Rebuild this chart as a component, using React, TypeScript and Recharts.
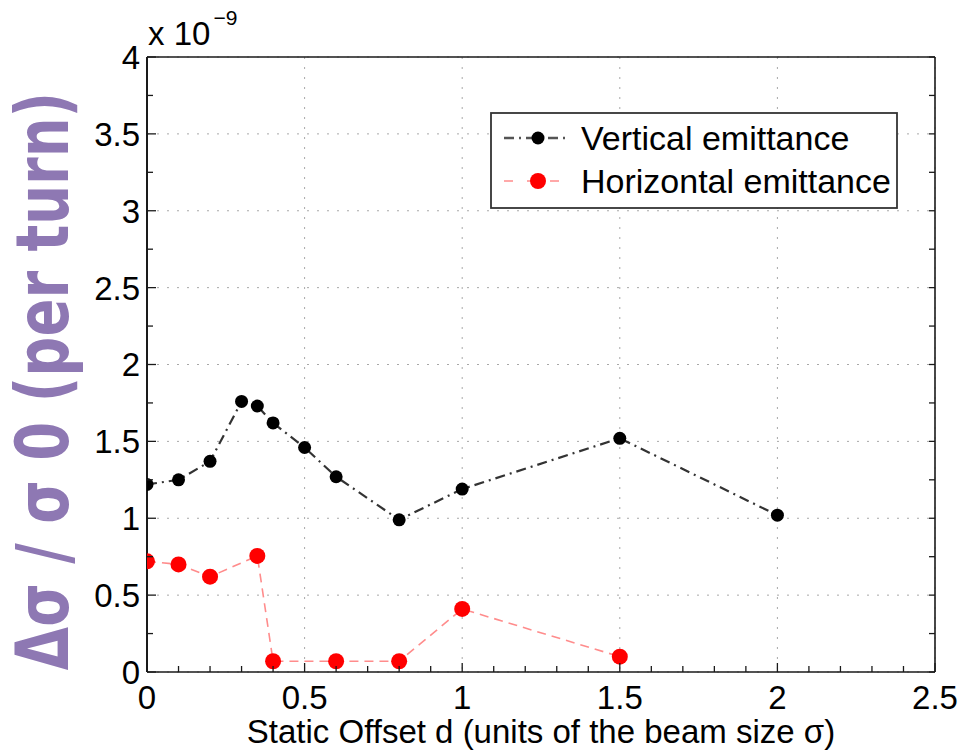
import { CartesianGrid, Legend, Line, LineChart, XAxis, YAxis } from "recharts";

// values in units of 1e-9 (see the "x 10^-9" multiplier)
const verticalOffsets = [0, 0.1, 0.2, 0.3, 0.35, 0.4, 0.5, 0.6, 0.8, 1, 1.5, 2];
const verticalEmittance = [1.22, 1.25, 1.37, 1.76, 1.73, 1.62, 1.46, 1.27, 0.99, 1.19, 1.52, 1.02];

const horizontalOffsets = [0, 0.1, 0.2, 0.35, 0.4, 0.6, 0.8, 1, 1.5];
const horizontalEmittance = [0.72, 0.7, 0.62, 0.755, 0.07, 0.07, 0.07, 0.41, 0.1];

const xTicksMajor = [0, 0.5, 1, 1.5, 2, 2.5];
const xTicksMinor = [
  0, 0.1, 0.2, 0.3, 0.4, 0.5, 0.6, 0.7, 0.8, 0.9, 1, 1.1, 1.2, 1.3, 1.4, 1.5, 1.6, 1.7, 1.8, 1.9, 2, 2.1,
  2.2, 2.3, 2.4, 2.5,
];
const yTicksMajor = [0, 0.5, 1, 1.5, 2, 2.5, 3, 3.5, 4];
const yTicksMinor = [0, 0.25, 0.5, 0.75, 1, 1.25, 1.5, 1.75, 2, 2.25, 2.5, 2.75, 3, 3.25, 3.5, 3.75, 4];

const verticalData = verticalOffsets.map((x, i) => ({ x, y: verticalEmittance[i] }));
const horizontalData = horizontalOffsets.map((x, i) => ({ x, y: horizontalEmittance[i] }));

const font = "'Liberation Sans', Arial, Helvetica, sans-serif";
const ink = "#1a1a1a";

const applyScale = (axis: any, v: number) => {
  const s = axis && axis.scale;
  if (!s) return 0;
  return typeof s === "function" ? s(v) : s.map(v);
};

function BottomTick(props: any) {
  const { x, y, payload } = props;
  const major = xTicksMajor.includes(payload.value);
  return (
    <g>
      <line x1={x} x2={x} y1={y} y2={y - (major ? 9 : 6)} stroke={ink} strokeWidth={1.3} />
      {major && (
        <text x={x} y={y + 37} textAnchor="middle" fontSize={33} fontFamily={font} fill="#000">
          {payload.value}
        </text>
      )}
    </g>
  );
}

function TopTick(props: any) {
  const { x, y } = props;
  return <line x1={x} x2={x} y1={y} y2={y + 6} stroke={ink} strokeWidth={1.3} />;
}

function LeftTick(props: any) {
  const { x, y, payload } = props;
  const major = yTicksMajor.includes(payload.value);
  return (
    <g>
      <line x1={x} x2={x + (major ? 9 : 6)} y1={y} y2={y} stroke={ink} strokeWidth={1.3} />
      {major && (
        <text x={x - 7} y={y} dy="0.36em" textAnchor="end" fontSize={33} fontFamily={font} fill="#000">
          {payload.value}
        </text>
      )}
    </g>
  );
}

function RightTick(props: any) {
  const { x, y } = props;
  return <line x1={x} x2={x - 6} y1={y} y2={y} stroke={ink} strokeWidth={1.3} />;
}

function LegendBox() {
  return (
    <svg width={408} height={97} style={{ display: "block" }}>
      <rect x={1} y={1} width={406} height={95} fill="#fff" stroke="#333" strokeWidth={1.8} />
      <line x1={14} x2={79} y1={26} y2={26} stroke="#555" strokeWidth={2.5} strokeDasharray="10 5 2 5" />
      <circle cx={48} cy={26} r={6.5} fill="#000" />
      <text x={91} y={38} fontSize={34} fontFamily={font} fill="#000">
        Vertical emittance
      </text>
      <line x1={14} x2={79} y1={69} y2={69} stroke="#ff8c8c" strokeWidth={1.5} strokeDasharray="9 14" />
      <circle cx={48} cy={69} r={8} fill="#ff0000" />
      <text x={91} y={81} fontSize={34} fontFamily={font} fill="#000">
        Horizontal emittance
      </text>
    </svg>
  );
}

export default function App() {
  return (
    <div style={{ position: "absolute", left: 0, top: 0, background: "#fff" }}>
      <LineChart width={961} height={756} margin={{ top: 56, right: 25, bottom: 0, left: 0 }}>
        <CartesianGrid
          stroke="#a8a8a8"
          strokeDasharray="2 8"
          strokeWidth={1}
          verticalCoordinatesGenerator={({ xAxis }: any) => xTicksMajor.map((v) => applyScale(xAxis, v))}
          horizontalCoordinatesGenerator={({ yAxis }: any) => yTicksMajor.map((v) => applyScale(yAxis, v))}
        />
        <XAxis
          dataKey="x"
          type="number"
          domain={[0, 2.5]}
          ticks={xTicksMinor}
          interval={0}
          allowDataOverflow
          height={84}
          tickSize={0}
          tickMargin={0}
          tickLine={false}
          tick={BottomTick}
          axisLine={{ stroke: ink, strokeWidth: 1.6 }}
          label={{
            content: (p: any) => {
              const vb = p.viewBox || { x: 147, y: 672, width: 788 };
              return (
                <text x={vb.x + vb.width / 2} y={vb.y + 71} textAnchor="middle" fontSize={33} fontFamily={font} fill="#000">
                  Static Offset d (units of the beam size σ)
                </text>
              );
            },
          }}
        />
        <XAxis
          xAxisId="top"
          orientation="top"
          type="number"
          domain={[0, 2.5]}
          ticks={xTicksMinor}
          interval={0}
          allowDataOverflow
          height={1}
          tickSize={0}
          tickMargin={0}
          tickLine={false}
          tick={TopTick}
          axisLine={{ stroke: ink, strokeWidth: 1.6 }}
          label={{
            content: (p: any) => {
              const vb = p.viewBox || { x: 147, y: 56 };
              return (
                <text x={vb.x + 1} y={45} fontSize={33} fontFamily={font} fill="#000">
                  x 10
                  <tspan dx={3} dy={-20} fontSize={21}>
                    −9
                  </tspan>
                </text>
              );
            },
          }}
        />
        <YAxis
          type="number"
          domain={[0, 4]}
          ticks={yTicksMinor}
          interval={0}
          allowDataOverflow
          width={147}
          tickSize={0}
          tickMargin={0}
          tickLine={false}
          tick={LeftTick}
          axisLine={{ stroke: ink, strokeWidth: 2 }}
          label={{
            content: (p: any) => {
              const vb = p.viewBox || { x: 0, y: 57, height: 615 };
              return (
                <text
                  transform={`translate(${vb.x + 68}, 381) rotate(-90) scale(1, 1.3)`}
                  textAnchor="middle"
                  fontSize={56}
                  fontWeight="bold"
                  fontFamily="'DejaVu Sans', Verdana, sans-serif"
                  fill="#8e78b3"
                >
                  Δσ / σ 0 (per turn)
                </text>
              );
            },
          }}
        />
        <YAxis
          yAxisId="right"
          orientation="right"
          type="number"
          domain={[0, 4]}
          ticks={yTicksMinor}
          interval={0}
          allowDataOverflow
          width={1}
          tickSize={0}
          tickMargin={0}
          tickLine={false}
          tick={RightTick}
          axisLine={{ stroke: ink, strokeWidth: 1.6 }}
        />
        <Legend
          layout="vertical"
          align="center"
          verticalAlign="middle"
          content={() => <LegendBox />}
          wrapperStyle={{ position: "absolute", left: 490, top: 112, width: 408, height: 97 }}
        />
        <Line
          name="Vertical emittance"
          data={verticalData}
          dataKey="y"
          stroke="#333"
          strokeWidth={2.2}
          strokeDasharray="10 5 2 5"
          dot={{ r: 6.5, fill: "#000", stroke: "none" }}
          activeDot={false}
          isAnimationActive={false}
        />
        <Line
          name="Horizontal emittance"
          data={horizontalData}
          dataKey="y"
          stroke="#ff8c8c"
          strokeWidth={1.6}
          strokeDasharray="9 6"
          dot={{ r: 8, fill: "#ff0000", stroke: "none" }}
          activeDot={false}
          isAnimationActive={false}
        />
      </LineChart>
    </div>
  );
}
